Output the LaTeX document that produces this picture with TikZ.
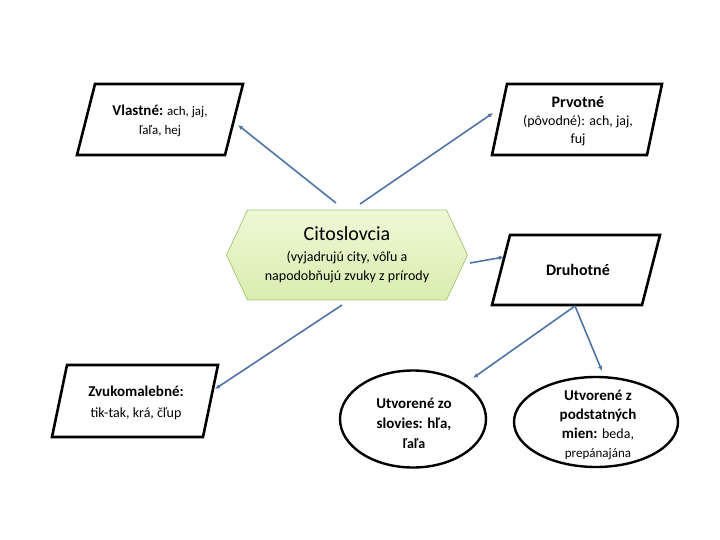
\documentclass[tikz,border=0pt]{standalone}
\usepackage{fontspec}
\setmainfont{Carlito}
\usetikzlibrary{shapes.geometric,shapes.symbols,arrows.meta}
\definecolor{arrowblue}{HTML}{4F74A6}
\definecolor{hexfillA}{HTML}{EEF8D6}
\definecolor{hexfillB}{HTML}{D9EDAE}
\definecolor{hexline}{HTML}{A9C97A}
\tikzset{
  paraline/.style={draw=black, line width=2.6pt, line join=miter},
  txt/.style={inner sep=0pt, align=center, font=\fontsize{13}{19}\selectfont},
  oval/.style={ellipse, draw=black, line width=2.4pt, fill=white, inner sep=0pt},
  conn/.style={draw=arrowblue, line width=1.6pt, -{Latex[length=5pt,width=4.5pt]}},
}
\begin{document}
\begin{tikzpicture}[x=1pt,y=-1pt]
\useasboundingbox (0,0) rectangle (720,540);
% hexagon
\node[signal, signal to=west and east, signal pointer angle=130,
  minimum width=241pt, minimum height=90pt, inner sep=0pt,
  draw=hexline, line width=0.8pt, top color=hexfillA, bottom color=hexfillB,
  align=center, font=\fontsize{14}{19.5}\selectfont] (cit) at (347,255)
  {{\fontsize{20}{22}\selectfont Citoslovcia}\\[1pt](vyjadrujú city, vôľu a\\napodobňujú zvuky z prírody};
% parallelograms
\draw[paraline] (95,84) -- (243,84) -- (225,155) -- (77,155) -- cycle;
\node[txt] (vla) at (160,121) {{\bfseries\fontsize{15}{19}\selectfont Vlastné:} ach, jaj,\\ľaľa, hej};
\draw[paraline] (507,84) -- (662,84) -- (647,155) -- (492,155) -- cycle;
\node[txt, font=\fontsize{14}{18}\selectfont] (prv) at (578,121)
  {{\bfseries\fontsize{16}{19}\selectfont Prvotné}\\(pôvodné): ach, jaj,\\fuj};
\draw[paraline] (510,235) -- (660,235) -- (642,305) -- (492,305) -- cycle;
\node[txt, font=\bfseries\fontsize{16}{19}\selectfont] (dru) at (578,270) {Druhotné};
\draw[paraline] (67,365) -- (218,365) -- (203,437) -- (52,437) -- cycle;
\node[txt, font=\fontsize{14}{21}\selectfont] (zvu) at (136,403)
  {{\bfseries\fontsize{15}{21}\selectfont Zvukomalebné:}\\tik-tak, krá, čľup};
% ellipses
\node[oval, minimum width=146pt, minimum height=97pt] (slo) at (413,419) {};
\node[txt, font=\bfseries\fontsize{15}{20}\selectfont] (slot) at (414,423)
  {Utvorené zo\\slovies: hľa,\\{\fontsize{14}{16}\selectfont ľaľa}};
\node[oval, minimum width=164pt, minimum height=90pt] (pod) at (596,422) {};
\node[txt, font=\bfseries\fontsize{15}{19}\selectfont] (podt) at (598,425)
  {Utvorené z\\podstatných\\mien: {\mdseries\fontsize{14}{16}\selectfont beda,}\\{\mdseries\fontsize{13}{15}\selectfont prepánajána}};
% arrow end points
\coordinate (a1s) at (336,203); \coordinate (a1e) at (238,125);
\coordinate (a2s) at (360,204); \coordinate (a2e) at (493,113);
\coordinate (a3s) at (342,305); \coordinate (a3e) at (215,389);
\coordinate (a4s) at (470,263); \coordinate (a4e) at (504,257);
\coordinate (a5s) at (575,306); \coordinate (a5e) at (473,378);
\coordinate (a6e) at (602,371);
\draw[conn] (a1s) -- (a1e);
\draw[conn] (a2s) -- (a2e);
\draw[conn] (a3s) -- (a3e);
\draw[conn] (a4s) -- (a4e);
\draw[conn] (a5s) -- (a5e);
\draw[conn] (a5s) -- (a6e);
\end{tikzpicture}
\end{document}
